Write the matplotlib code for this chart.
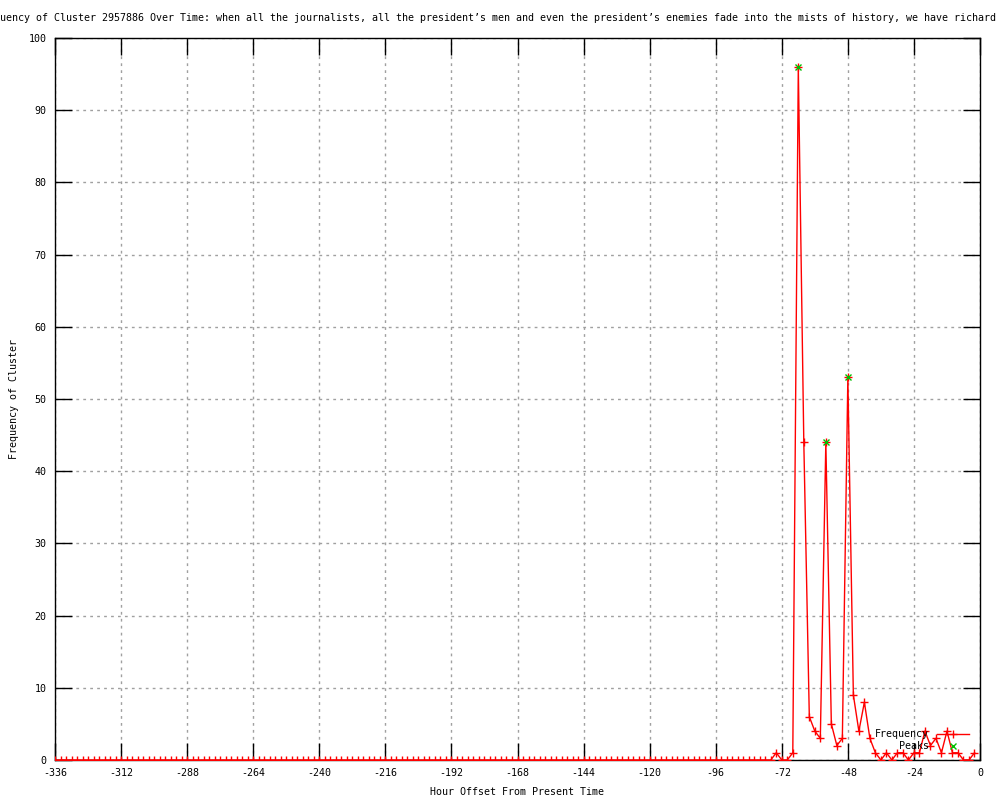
import matplotlib
matplotlib.use('Agg')

import numpy as np
import matplotlib.pyplot as plt
import matplotlib.ticker as mticker

# hour offsets, one bin every 2 hours
hours = np.arange(-336, 0, 2)

# cluster frequency per bin, one row = one day (12 bins)
freq = [
    0, 0, 0, 0, 0, 0, 0, 0, 0, 0, 0, 0,
    0, 0, 0, 0, 0, 0, 0, 0, 0, 0, 0, 0,
    0, 0, 0, 0, 0, 0, 0, 0, 0, 0, 0, 0,
    0, 0, 0, 0, 0, 0, 0, 0, 0, 0, 0, 0,
    0, 0, 0, 0, 0, 0, 0, 0, 0, 0, 0, 0,
    0, 0, 0, 0, 0, 0, 0, 0, 0, 0, 0, 0,
    0, 0, 0, 0, 0, 0, 0, 0, 0, 0, 0, 0,
    0, 0, 0, 0, 0, 0, 0, 0, 0, 0, 0, 0,
    0, 0, 0, 0, 0, 0, 0, 0, 0, 0, 0, 0,
    0, 0, 0, 0, 0, 0, 0, 0, 0, 0, 0, 0,
    0, 0, 0, 0, 0, 0, 0, 0, 0, 0, 0, 1,
    0, 0, 1, 96, 44, 6, 4, 3, 44, 5, 2, 3,
    53, 9, 4, 8, 3, 1, 0, 1, 0, 1, 1, 0,
    1, 1, 4, 2, 3, 1, 4, 1, 1, 0, 0, 1,
]

# detected peaks
peak_hours = [-66, -56, -48]
peak_values = [96, 44, 53]

# the title is wider than the image, like in the original
title = ("Frequency of Cluster 2957886 Over Time: when all the journalists, "
         "all the president\u2019s men and even the president\u2019s enemies "
         "fade into the mists of history, we have richard")

plt.rcParams['font.family'] = ['DejaVu Sans Mono']
plt.rcParams['font.size'] = 7.2
plt.rcParams['axes.unicode_minus'] = False

fig = plt.figure(figsize=(10, 8), dpi=100)
ax = fig.add_axes([0.055, 0.05, 0.925, 0.9025])

ax.plot(hours, freq, color='red', lw=1, marker='+', markersize=6,
        markeredgewidth=1, label='Frequency', zorder=3)
ax.plot(peak_hours, peak_values, linestyle='none', color='#00c000',
        marker='x', markersize=5, markeredgewidth=1, label='Peaks', zorder=4)

ax.set_xlim(-336, 0)
ax.set_ylim(0, 100)
ax.xaxis.set_major_locator(mticker.MultipleLocator(24))
ax.yaxis.set_major_locator(mticker.MultipleLocator(10))

ax.grid(True, color='#a0a0a0', linestyle=(0, (2, 3)), lw=1)
ax.tick_params(direction='in', length=12, width=1, top=True, right=True,
               color='black', labelsize=7.2)
ax.tick_params(axis='x', pad=6)
ax.tick_params(axis='y', pad=6)
for s in ax.spines.values():
    s.set_linewidth(1)

ax.set_xlabel('Hour Offset From Present Time', labelpad=6)
ax.set_ylabel('Frequency of Cluster', labelpad=7)

fig.text(-0.024, 0.977, title, ha='left', va='center', fontsize=7.2)

ax.legend(loc='lower right', bbox_to_anchor=(0.988, 0.012), frameon=False,
          markerfirst=False, borderpad=0, borderaxespad=0, handlelength=3.2,
          handletextpad=0.8, labelspacing=0.2, fontsize=7.2)

plt.savefig('out.png', dpi=100)
